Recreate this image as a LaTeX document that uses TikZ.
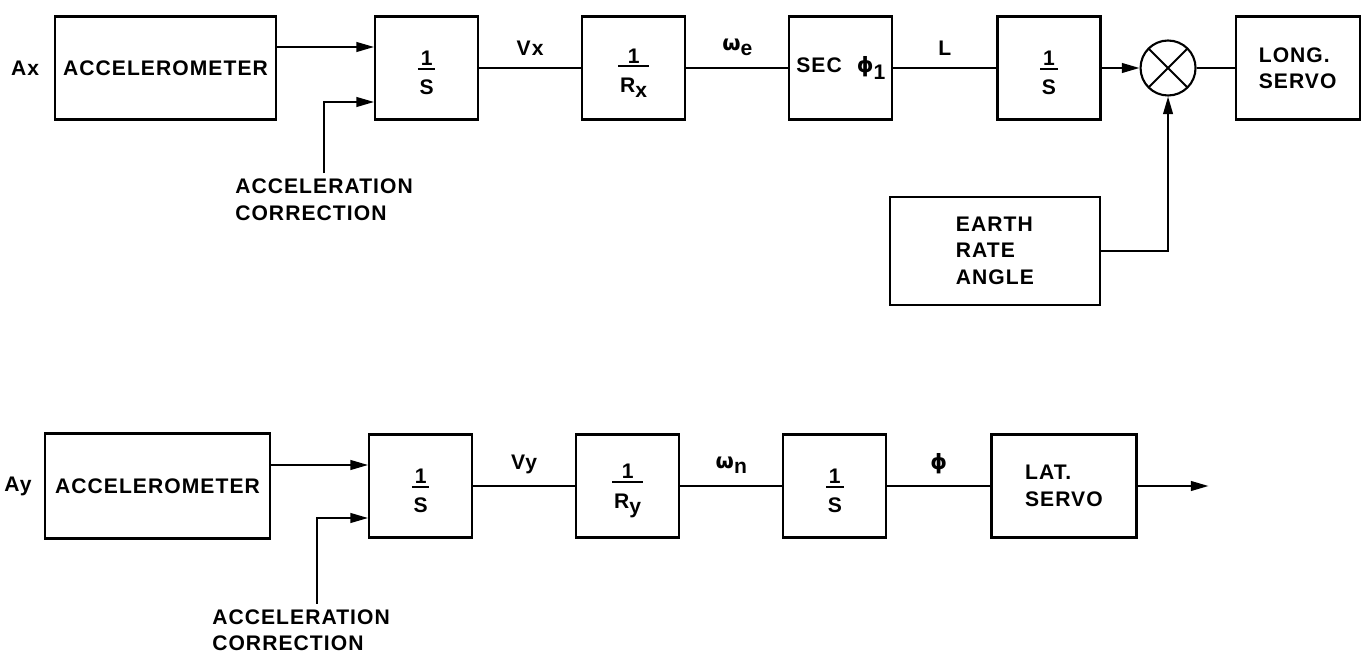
\documentclass[tikz,border=0pt]{standalone}
\usepackage{fontspec}
\setmainfont{Liberation Sans}[LetterSpace=5]
\newfontfamily\grk{DejaVu Sans}
\usetikzlibrary{arrows.meta,positioning,calc}
\tikzset{
  blk/.style={draw,line width=1.2pt,minimum width=#1,minimum height=2.06cm,inner sep=3pt,align=center},
  blk/.default=2.06cm,
  wire/.style={line width=1.1pt},
  sig/.style={wire,-{Triangle[length=10pt,width=5.5pt]}},
  tag/.style={inner sep=2pt},
}
\newcommand{\gk}[1]{{\grk #1}}
\newcommand{\ovr}[2]{${\hbox{\rule{0pt}{14pt}#1}\above1.2pt\hbox{\kern1pt\rule{0pt}{13pt}#2\kern1pt}}$}

\begin{document}
\begin{tikzpicture}[
  every node/.style={font=\bfseries\fontsize{12}{15}\selectfont},
  summer/.style={circle,draw,line width=1.2pt,minimum size=1.1cm,inner sep=0pt,
    path picture={\draw[line width=1.1pt] (path picture bounding box.north west) -- (path picture bounding box.south east)
      (path picture bounding box.south west) -- (path picture bounding box.north east);}}]
  \useasboundingbox (0,0) rectangle (27.4,-13.2);
  % longitude channel
  \node[blk=4.42cm] (acc1) at (3.31,-1.36) {ACCELEROMETER};
  \node[tag,left=0.22cm of acc1] (ax) {Ax};
  \node[blk,right=1.94cm of acc1] (int1) {\ovr{1}{S}};
  \node[blk,right=2.04cm of int1] (rx) {\ovr{1}{R\raisebox{-3pt}{x}}};
  \node[blk,right=2.04cm of rx] (sec) {SEC\hspace{0.3cm}\gk{ϕ}\raisebox{-4pt}{1}};
  \node[blk,right=2.06cm of sec] (int2) {\ovr{1}{S}};
  \node[summer,right=0.76cm of int2] (sum) {};
  \node[blk=2.48cm,align=left,right=0.76cm of sum] (lng) {LONG.\\SERVO};
  \node[blk=4.2cm,minimum height=2.16cm,align=left,below=1.5cm of int2,xshift=-1.08cm] (earth) {EARTH\\RATE\\ANGLE};
  \node[align=left,below=1.05cm of int1.south west,xshift=-1cm] (corr1) {ACCELERATION\\CORRECTION};
  \draw[sig] ([yshift=0.42cm]acc1.east) -- ([yshift=0.42cm]int1.west);
  \draw[sig] (corr1.north) |- ([yshift=-0.68cm]int1.west);
  \draw[wire] (int1) -- node[above=3pt] {Vx} (rx);
  \draw[wire] (rx) -- node[above=3pt] {\gk{ω}\raisebox{-3pt}{e}} (sec);
  \draw[wire] (sec) -- node[above=3pt] {L} (int2);
  \draw[sig] (int2) -- (sum);
  \draw[wire] (sum) -- (lng);
  \draw[sig] (earth) -| (sum);
  % latitude channel
  \node[blk=4.5cm,minimum height=2.1cm] (acc2) at (3.15,-9.72) {ACCELEROMETER};
  \node[tag,left=0.17cm of acc2] (ay) {Ay};
  \node[blk,right=1.94cm of acc2] (int3) {\ovr{1}{S}};
  \node[blk,right=2.04cm of int3] (ry) {\ovr{1}{R\raisebox{-3pt}{y}}};
  \node[blk,right=2.04cm of ry] (int4) {\ovr{1}{S}};
  \node[blk=2.9cm,align=left,right=2.06cm of int4] (lat) {LAT.\\SERVO};
  \coordinate[right=1.42cm of lat] (out);
  \node[align=left,below=1.3cm of int3.south west,xshift=-1.34cm] (corr2) {ACCELERATION\\CORRECTION};
  \draw[sig] ([yshift=0.42cm]acc2.east) -- ([yshift=0.42cm]int3.west);
  \draw[sig] ([xshift=0.32cm]corr2.north) |- ([yshift=-0.64cm]int3.west);
  \draw[wire] (int3) -- node[above=3pt] {Vy} (ry);
  \draw[wire] (ry) -- node[above=3pt] {\gk{ω}\raisebox{-3pt}{n}} (int4);
  \draw[wire] (int4) -- node[above=3pt] {\gk{ϕ}} (lat);
  \draw[sig] (lat) -- (out);
\end{tikzpicture}
\end{document}
